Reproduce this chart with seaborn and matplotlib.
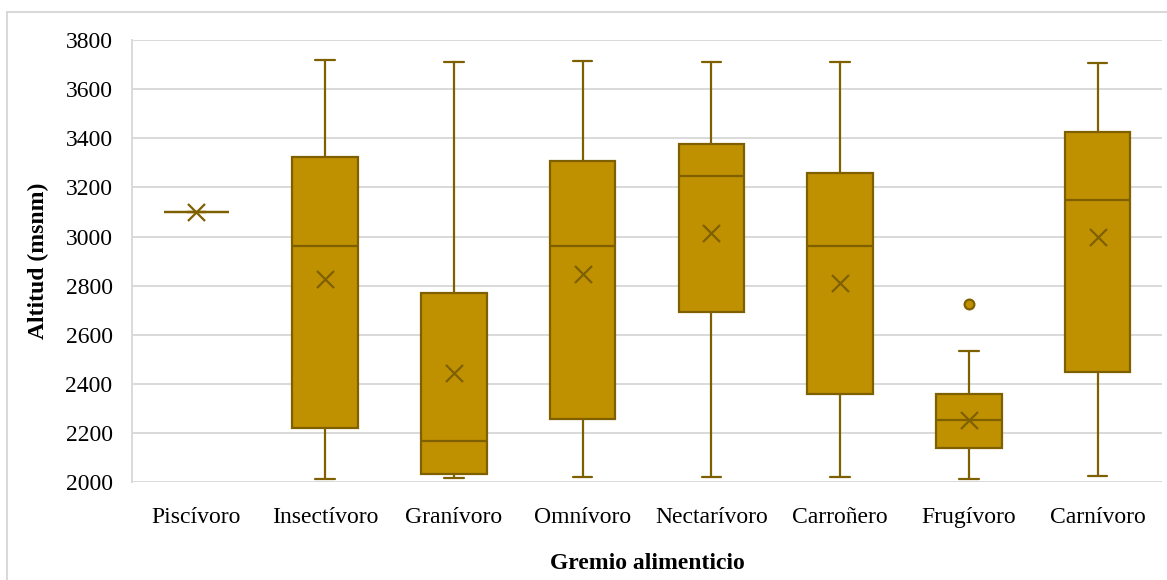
import matplotlib
matplotlib.use("Agg")
import matplotlib.pyplot as plt
import seaborn as sns
import numpy as np
from matplotlib.patches import Rectangle

# ---- data ----
categories = ["Piscívoro", "Insectívoro", "Granívoro", "Omnívoro",
              "Nectarívoro", "Carroñero", "Frugívoro", "Carnívoro"]
whisker_low = [3100, 2012, 2019, 2022, 2022, 2022, 2012, 2026]
q1          = [3100, 2220, 2033, 2258, 2692, 2359, 2141, 2450]
median      = [3100, 2963, 2169, 2963, 3245, 2963, 2255, 3149]
q3          = [3100, 3325, 2769, 3308, 3375, 3258, 2361, 3426]
whisker_high= [3100, 3717, 3709, 3715, 3712, 3709, 2534, 3708]
means       = [3100, 2829, 2446, 2846, 3013, 2810, 2254, 2997]
outliers    = [[], [], [], [], [], [], [2724], []]
y_ticks     = [2000, 2200, 2400, 2600, 2800, 3000, 3200, 3400, 3600, 3800]

FILL = "#BF9000"
EDGE = "#7F6000"

sns.set_theme(style="white")
plt.rcParams["font.family"] = ["Liberation Serif", "DejaVu Serif"]
plt.rcParams["text.color"] = "black"
plt.rcParams["axes.labelcolor"] = "black"

fig = plt.figure(figsize=(11.67, 5.8), dpi=100)
ax = fig.add_axes([0.1131, 0.1684, 0.8826, 0.7626])

stats = []
for i, c in enumerate(categories):
    stats.append(dict(label=c, whislo=whisker_low[i], q1=q1[i], med=median[i],
                      q3=q3[i], whishi=whisker_high[i], fliers=outliers[i]))

positions = np.arange(len(categories))
ax.bxp(stats, positions=positions, widths=0.51, capwidths=0.15,
       showmeans=False, patch_artist=True,
       boxprops=dict(facecolor=FILL, edgecolor=EDGE, linewidth=1.6),
       medianprops=dict(color=EDGE, linewidth=1.6),
       whiskerprops=dict(color=EDGE, linewidth=1.6),
       capprops=dict(color=EDGE, linewidth=1.6),
       flierprops=dict(marker="o", markerfacecolor=FILL, markeredgecolor=EDGE,
                       markersize=7, markeredgewidth=1.6),
       zorder=3)

sns.scatterplot(x=positions, y=means, marker="x", s=150, color=EDGE,
                linewidth=1.6, ax=ax, zorder=4, legend=False)

ax.set_xlim(-0.5, len(categories) - 0.5)
ax.set_ylim(2000, 3800)
ax.set_yticks(y_ticks)
ax.set_yticklabels([str(v) for v in y_ticks], fontsize=17)
ax.set_xticks(positions)
ax.set_xticklabels(categories, fontsize=17)
ax.tick_params(axis="both", length=0, colors="black", labelcolor="black")
ax.tick_params(axis="y", pad=14)
ax.tick_params(axis="x", pad=18)
ax.yaxis.grid(True, color="#D9D9D9", linewidth=1.4, zorder=0)
ax.set_axisbelow(True)
for s in ["top", "right", "bottom"]:
    ax.spines[s].set_visible(False)
ax.spines["left"].set_color("#D9D9D9")
ax.spines["left"].set_linewidth(1.4)

ax.set_ylabel("Altitud (msnm)", fontsize=17, fontweight="bold", labelpad=12,
              color="black")
ax.set_xlabel("Gremio alimenticio", fontsize=17, fontweight="bold", labelpad=18,
              color="black")

# chart-area border, like the Excel chart frame
fig.patches.append(Rectangle((7 / 1167, -0.05), 1.1, 1 - 12 / 580 + 0.05,
                             transform=fig.transFigure, fill=False,
                             edgecolor="#D9D9D9", linewidth=1.5))

fig.savefig("out.png", dpi=100)
